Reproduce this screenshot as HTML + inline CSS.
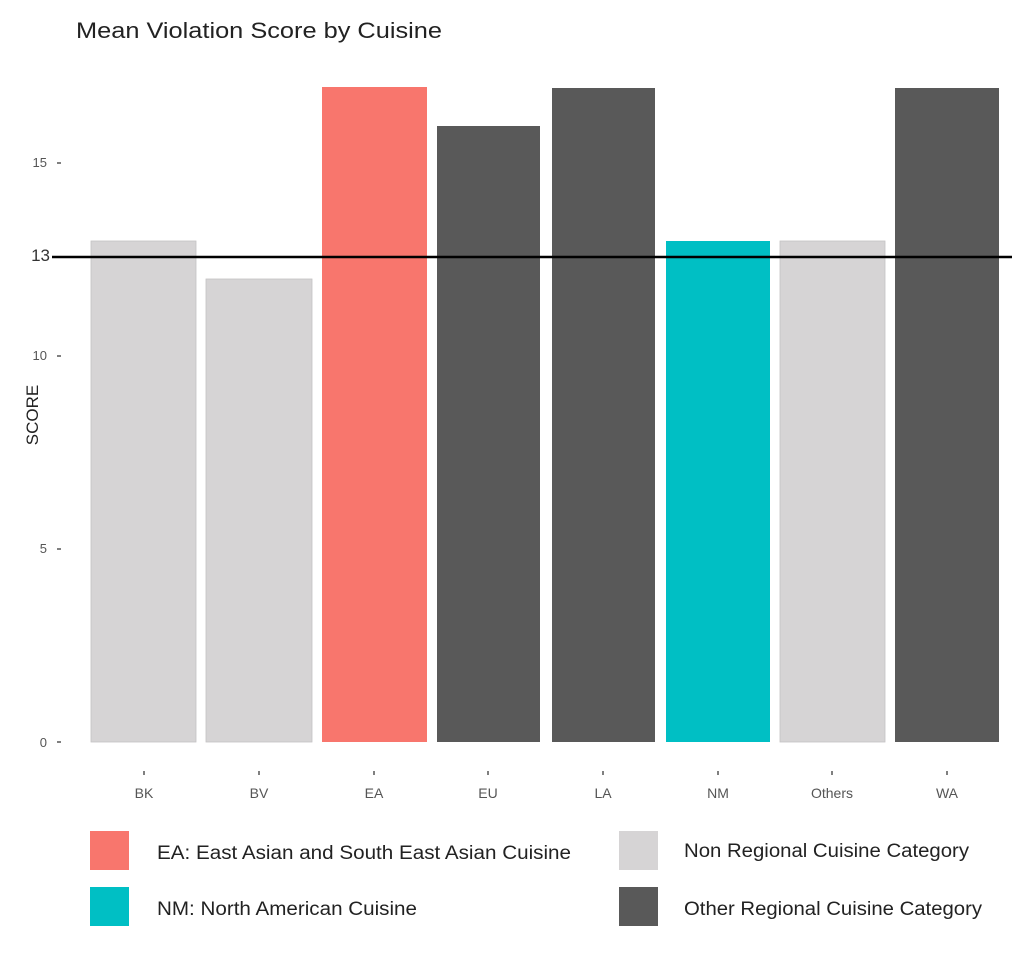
<!DOCTYPE html>
<html><head><meta charset="utf-8"><style>
body{margin:0;background:#fff;}
svg{display:block;font-family:"Liberation Sans",sans-serif;}
</style></head><body>
<svg width="1024" height="954" viewBox="0 0 1024 954" xmlns="http://www.w3.org/2000/svg">
<rect width="1024" height="954" fill="#fff"/>
<text x="76" y="38" font-size="22" fill="#222" textLength="366" lengthAdjust="spacingAndGlyphs">Mean Violation Score by Cuisine</text>
<text transform="translate(38,415) rotate(-90)" font-size="17" fill="#222" text-anchor="middle">SCORE</text>
<g font-size="13" fill="#555" text-anchor="end">
<text x="47" y="167">15</text><text x="50" y="261" font-size="17" fill="#333">13</text>
<text x="47" y="360">10</text><text x="47" y="553">5</text><text x="47" y="747">0</text>
</g>
<g stroke="#555" stroke-width="1.5">
<line x1="57" y1="163" x2="61" y2="163"/><line x1="57" y1="356" x2="61" y2="356"/>
<line x1="57" y1="549" x2="61" y2="549"/><line x1="57" y1="742" x2="61" y2="742"/>
<line x1="144" y1="771" x2="144" y2="775"/><line x1="259" y1="771" x2="259" y2="775"/>
<line x1="374" y1="771" x2="374" y2="775"/><line x1="488" y1="771" x2="488" y2="775"/>
<line x1="603" y1="771" x2="603" y2="775"/><line x1="718" y1="771" x2="718" y2="775"/>
<line x1="832" y1="771" x2="832" y2="775"/><line x1="947" y1="771" x2="947" y2="775"/>
</g>
<rect x="91" y="241" width="105" height="501" fill="#d6d4d5" stroke="#c4c2c3" stroke-width="0.8"/>
<rect x="206" y="279" width="106" height="463" fill="#d6d4d5" stroke="#c4c2c3" stroke-width="0.8"/>
<rect x="322" y="87" width="105" height="655" fill="#f8766d"/>
<rect x="437" y="126" width="103" height="616" fill="#595959"/>
<rect x="552" y="88" width="103" height="654" fill="#595959"/>
<rect x="666" y="241" width="104" height="501" fill="#00bfc4"/>
<rect x="780" y="241" width="105" height="501" fill="#d6d4d5" stroke="#c4c2c3" stroke-width="0.8"/>
<rect x="895" y="88" width="104" height="654" fill="#595959"/>
<line x1="52" y1="257" x2="1012" y2="257" stroke="#000" stroke-width="2.5"/>
<g font-size="14" fill="#555" text-anchor="middle">
<text x="144" y="798">BK</text><text x="259" y="798">BV</text><text x="374" y="798">EA</text>
<text x="488" y="798">EU</text><text x="603" y="798">LA</text><text x="718" y="798">NM</text>
<text x="832" y="798">Others</text><text x="947" y="798">WA</text>
</g>
<rect x="90" y="831" width="39" height="39" fill="#f8766d"/>
<rect x="90" y="887" width="39" height="39" fill="#00bfc4"/>
<rect x="619" y="831" width="39" height="39" fill="#d6d4d5"/>
<rect x="619" y="887" width="39" height="39" fill="#595959"/>
<g font-size="19" fill="#222">
<text x="157" y="859" textLength="414" lengthAdjust="spacingAndGlyphs">EA:  East Asian and South East Asian Cuisine</text>
<text x="157" y="915" textLength="260" lengthAdjust="spacingAndGlyphs">NM: North American Cuisine</text>
<text x="684" y="857" textLength="285" lengthAdjust="spacingAndGlyphs">Non Regional Cuisine Category</text>
<text x="684" y="915" textLength="298" lengthAdjust="spacingAndGlyphs">Other Regional Cuisine Category</text>
</g>
</svg>
</body></html>
